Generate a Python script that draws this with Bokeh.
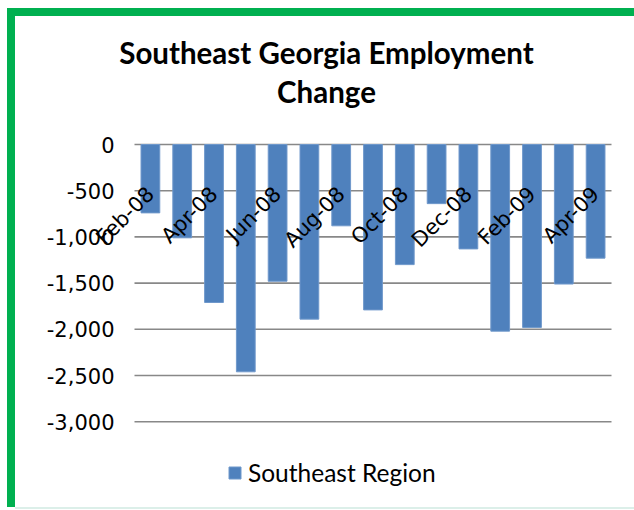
import math
from bokeh.plotting import figure
from bokeh.models import (Range1d, FixedTicker, NumeralTickFormatter,
                          Label, Legend, LegendItem, ColumnDataSource)
from bokeh.embed import file_html
from bokeh.resources import INLINE

# ---- data ----
months = ["Feb-08", "Mar-08", "Apr-08", "May-08", "Jun-08", "Jul-08", "Aug-08", "Sep-08",
          "Oct-08", "Nov-08", "Dec-08", "Jan-09", "Feb-09", "Mar-09", "Apr-09"]
change = [-740, -1010, -1710, -2460, -1480, -1890, -880, -1790,
          -1300, -640, -1130, -2020, -1980, -1510, -1230]
y_ticks = [0, -500, -1000, -1500, -2000, -2500, -3000]
title_lines = ["Southeast Georgia Employment", "Change"]
series_name = "Southeast Region"

xs = list(range(len(months)))
shown_x = xs[::2]
label_map = {i: months[i] for i in shown_x}

# ---- layout (pixels, inside the canvas) ----
CANVAS_W, CANVAS_H = 619, 491
PLOT_L, PLOT_R = 119, 596          # category area, left/right
ZERO_Y = 128                       # pixel row of the zero line (from top)
PX_PER_UNIT = 46.2 / 500.0

cat_px = (PLOT_R - PLOT_L) / len(months)
x_start = -0.5 - PLOT_L / cat_px
x_end = x_start + CANVAS_W / cat_px
y_end = ZERO_Y / PX_PER_UNIT
y_start = y_end - CANVAS_H / PX_PER_UNIT

TFONT = "Lato"
AFONT = "DejaVu Sans"
BAR = "#4F81BD"
GREEN = "#00B050"

p = figure(width=CANVAS_W, height=CANVAS_H, output_backend="svg",
           toolbar_location=None,
           x_range=Range1d(x_start, x_end), y_range=Range1d(y_start, y_end),
           min_border=0, min_border_left=0, min_border_right=0,
           min_border_top=0, min_border_bottom=0)
# green frame painted outside the canvas with shadows (does not change the canvas size)
p.styles = {"margin-left": "15px", "margin-top": "16px",
            "box-shadow": f"0 -8px 0 0 {GREEN}, -8px 0 0 0 {GREEN}, "
                          f"-8px -8px 0 0 {GREEN}, 0 2px 0 0 #dcefe9"}
p.outline_line_color = None
p.background_fill_color = "white"
p.border_fill_color = "white"
p.xgrid.visible = False
p.ygrid.visible = False

# horizontal gridlines across the category area
p.segment(x0=[-0.5] * len(y_ticks), x1=[len(months) - 0.5] * len(y_ticks),
          y0=y_ticks, y1=y_ticks, line_color="#888888", line_width=1.6)

src = ColumnDataSource(dict(x=xs, top=change))
r = p.vbar(x="x", top="top", bottom=0, width=0.59, source=src,
           fill_color=BAR, line_color="#6f98cb", line_width=1)

# category axis sitting on the zero line, labels hanging into the plot
xa = p.xaxis[0]
xa.fixed_location = 0
xa.ticker = FixedTicker(ticks=shown_x)
xa.major_label_overrides = label_map
xa.major_label_orientation = math.pi / 4
xa.axis_line_color = None
xa.major_tick_line_color = None
xa.minor_tick_line_color = None
xa.major_label_standoff = 40
xa.major_label_text_font = AFONT
xa.major_label_text_font_size = "21px"
xa.major_label_text_color = "black"

ya = p.yaxis[0]
ya.fixed_location = -0.5
ya.ticker = FixedTicker(ticks=y_ticks)
ya.formatter = NumeralTickFormatter(format="0,0")
ya.axis_line_color = None
ya.major_tick_line_color = None
ya.minor_tick_line_color = None
ya.major_label_standoff = 14
ya.major_label_text_font = AFONT
ya.major_label_text_font_size = "21px"
ya.major_label_text_color = "black"

# two-line title centred on the chart area
for txt, yb in zip(title_lines, [CANVAS_H - 36, CANVAS_H - 75]):
    p.add_layout(Label(x=311, y=yb, x_units="screen", y_units="screen", text=txt,
                       text_align="center", text_baseline="alphabetic", text_font=TFONT,
                       text_font_style="bold", text_font_size="29.5px", text_color="black"))

legend = Legend(items=[LegendItem(label=series_name, renderers=[r])],
                location=(212, 20), orientation="horizontal",
                padding=0, margin=0, spacing=0, border_line_color=None,
                background_fill_alpha=0, glyph_width=15, glyph_height=15,
                label_standoff=6, label_text_font=TFONT, label_text_font_size="24.5px",
                label_text_color="black")
p.add_layout(legend, "center")

open("out.html", "w").write(file_html(p, INLINE))
